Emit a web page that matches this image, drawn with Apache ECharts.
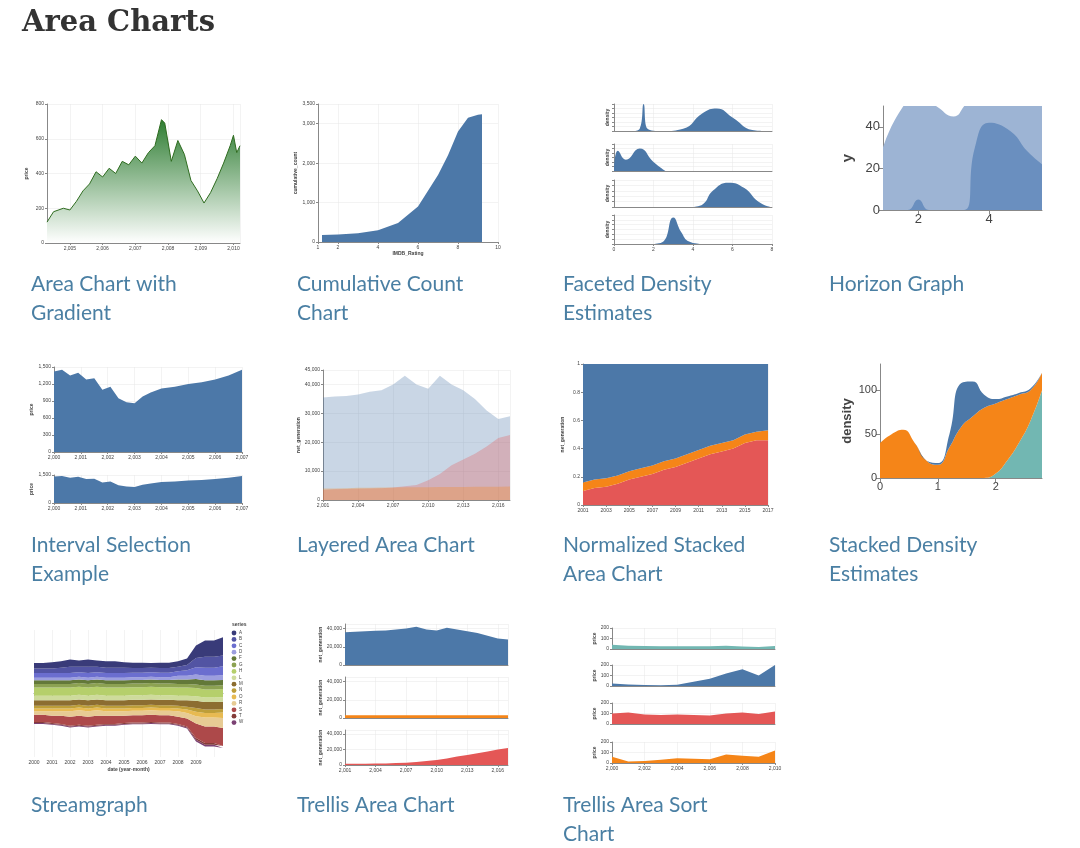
<!DOCTYPE html>
<html style="height: 100%">
<head>
<meta charset="utf-8">
<script src="https://cdn.jsdelivr.net/npm/echarts@6/dist/echarts.min.js"></script>
<script>
// captions
CAPTIONS = [
  ['Area Chart with', 'Gradient'], ['Cumulative Count', 'Chart'], ['Faceted Density', 'Estimates'], ['Horizon Graph'],
  ['Interval Selection', 'Example'], ['Layered Area Chart'], ['Normalized Stacked', 'Area Chart'], ['Stacked Density', 'Estimates'],
  ['Streamgraph'], ['Trellis Area Chart'], ['Trellis Area Sort', 'Chart']
];

// 1 gradient
GRAD = [[2004.3,120],[2004.5,180],[2004.8,200],[2005.0,190],[2005.2,240],[2005.4,300],[2005.6,340],[2005.8,410],[2006.0,380],
  [2006.2,430],[2006.4,400],[2006.6,470],[2006.8,450],[2007.0,500],[2007.2,460],[2007.4,520],[2007.6,560],[2007.8,710],
  [2007.9,690],[2008.1,470],[2008.3,590],[2008.5,510],[2008.7,360],[2008.9,300],[2009.1,230],[2009.3,290],[2009.5,370],
  [2009.7,460],[2009.9,560],[2010.0,620],[2010.1,520],[2010.2,560]];
// 2 cumulative
CUM = [[1.2,180],[2,190],[3,220],[4,300],[5,480],[6,900],[7,1700],[7.5,2200],[8,2800],[8.5,3150],[9,3230],[9.2,3240]];
// 3 faceted density
DEN_PL = [[1,0],[1.3,0.05],[1.5,0.6],[1.7,0.05],[2.5,0],[3.5,0.05],[4.5,0.4],[5.2,0.5],[6,0.3],[7,0.02],[7.5,0]];
DEN_PW = [[0,0],[0.2,0.9],[0.6,0.5],[1.3,1.0],[2,0.4],[2.6,0]];
DEN_SL = [[4,0],[4.5,0.05],[5,0.3],[5.8,0.45],[6.6,0.35],[7.3,0.1],[7.9,0]];
DEN_SW = [[2,0],[2.5,0.1],[3,1.1],[3.4,0.5],[3.8,0.1],[4.4,0]];
// 4 horizon
HOR_A = [[1,30],[1.5,48],[2,55],[2.5,50],[3,45],[3.3,50],[3.6,58],[4.5,60],[5.5,55]];
HOR_B = [[1,0],[1.7,0],[2,5],[2.3,0],[3.3,0],[3.6,30],[4,42],[4.6,38],[5.1,28],[5.5,22]];
// 5 interval
INT_X = [2000,2000.3,2000.6,2000.9,2001.2,2001.5,2001.8,2002.1,2002.4,2002.7,2003.0,2003.3,2003.6,2004,2004.5,2005,2005.5,2006,2006.5,2007];
INT_Y = [1420,1450,1350,1400,1280,1300,1100,1150,950,880,860,980,1050,1120,1150,1200,1230,1280,1350,1450];
// 6 layered
LAY_X = [2001,2002,2003,2004,2005,2006,2007,2008,2009,2010,2011,2012,2013,2014,2015,2016,2017];
LAY_A = [35500,35800,36000,36500,37500,38000,40000,43000,40000,38500,43000,40000,38000,35000,31000,28000,29000];
LAY_B = [3500,3700,3800,3900,4000,4100,4300,4800,5200,6800,9000,12000,14000,16000,18500,21500,22500];
LAY_C = [4000,4000,4100,4200,4200,4300,4300,4400,4400,4400,4500,4500,4500,4600,4600,4600,4700];
// 7 normalized
NOR_R = [0.1,0.12,0.13,0.15,0.18,0.2,0.22,0.25,0.27,0.3,0.33,0.36,0.38,0.4,0.44,0.46,0.46];
NOR_O = [0.06,0.06,0.06,0.06,0.06,0.06,0.06,0.06,0.06,0.06,0.06,0.06,0.06,0.06,0.06,0.06,0.07];
// 8 stacked density
SD_X = [0,0.2,0.4,0.6,0.8,1.0,1.2,1.4,1.6,1.8,2.0,2.2,2.4,2.6,2.8];
SD_O = [40,50,55,40,20,15,35,58,70,80,80,70,55,35,20];
SD_B = [0,0,0,0,0,2,15,50,40,15,5,3,2,2,0];
SD_T = [0,0,0,0,0,0,0,0,0,0,5,20,40,65,100];
// 9 streamgraph
ST_X = ['2000','2000.5','2001','2001.5','2002','2002.5','2003','2003.5','2004','2004.5','2005','2005.5','2006','2006.5','2007','2007.5','2008','2008.5','2009','2009.3','2009.6','2010'];
ST_NAMES = ['A','B','C','D','F','G','H','L','M','N','O','R','S','T','W'];
ST_VALS = [
  [6,6,7,7,8,7,8,7,7,7,6,6,6,5,6,6,6,7,14,18,18,20],
  [5,5,5,6,7,6,7,6,6,6,6,5,5,5,5,5,5,6,10,12,12,12],
  [5,5,5,5,5,5,5,5,5,5,5,5,5,5,5,5,5,6,8,9,9,10],
  [3,3,3,3,3,3,3,3,3,3,3,3,3,3,3,3,4,4,5,5,5,5],
  [4,4,4,4,4,4,4,4,4,4,4,4,4,4,4,4,5,5,6,6,6,6],
  [4,4,4,4,4,4,4,4,4,4,4,4,4,4,4,4,4,4,4,4,4,4],
  [9,9,9,9,9,9,9,9,9,9,9,9,9,9,9,9,9,9,9,9,9,9],
  [5,5,5,5,5,5,5,5,5,5,5,5,5,5,5,5,5,5,5,5,5,5],
  [6,6,6,6,6,6,6,6,6,6,6,6,6,6,6,6,6,7,8,8,8,8],
  [3,3,3,3,3,3,3,3,3,3,3,3,3,3,3,3,3,3,4,4,4,4],
  [3,3,3,3,3,3,3,3,3,3,3,3,3,3,3,3,3,4,5,5,5,6],
  [4,4,5,5,6,6,6,6,5,5,5,5,5,5,5,5,6,6,8,10,10,11],
  [8,8,8,9,10,10,10,10,9,9,8,8,8,8,8,8,8,9,16,18,18,20],
  [1,1,1,1,1,1,1,1,1,1,1,1,1,1,1,1,1,1,2,2,2,2],
  [1,1,1,1,1,1,1,1,1,1,1,1,1,1,1,1,1,1,2,2,2,2]
];
ST_COLORS = ['#393b79','#5254a3','#6b6ecf','#9c9ede','#637939','#8ca252','#b5cf6b','#cedb9c','#8c6d31','#bd9e39','#e7ba52','#e7cb94','#ad494a','#843c39','#7b4173'];
// 10 trellis
TR_X = [2001,2002,2003,2004,2005,2006,2007,2008,2009,2010,2011,2012,2013,2014,2015,2016,2017];
TR_FOSSIL = [36000,36500,37000,37500,38000,39000,40000,42000,39000,38000,41000,39000,37000,35000,32000,29000,28000];
TR_NUC = [3000,3000,3000,3100,3000,3100,3100,3000,3100,3000,3100,3000,3100,3000,3100,3000,3000];
TR_REN = [1500,1500,1700,1800,2000,2500,3000,4000,5000,6500,8500,11000,13000,15000,17500,20000,22000];
// 11 trellis sort
TS_X = [2000,2001,2002,2003,2004,2005,2006,2007,2008,2009,2010];
TS_MSFT = [40,30,28,26,26,26,27,30,25,20,28];
TS_AAPL = [25,15,10,8,12,40,70,120,160,100,200];
TS_IBM = [100,110,90,85,90,85,80,100,110,95,120];
TS_AMZN = [60,15,20,30,45,40,35,80,70,60,120];
</script>
</head>
<body style="height: 100%; margin: 0; background: #fff">
<div id="container" style="width: 1080px; height: 848px"></div>
<script>
var grids = [], xAxes = [], yAxes = [], series = [], graphics = [];
var GC = '#e6e6e6', LC = '#444';

function addGrid(rect, xmin, xmax, ymin, ymax, yname, showX, cats) {
    var i = grids.length;
    grids.push({left: rect[0], top: rect[1], width: rect[2], height: rect[3]});
    var xa = {type: 'value', gridIndex: i, min: xmin, max: xmax,
        axisLine: {lineStyle: {color: '#888'}}, axisTick: {show: showX !== false, length: 2},
        axisLabel: {show: showX !== false, fontSize: 5, color: LC, margin: 3, showMinLabel: true},
        splitLine: {show: true, lineStyle: {color: GC, width: 0.5}}};
    if (cats) { xa.type = 'category'; xa.data = cats; xa.boundaryGap = false; delete xa.min; delete xa.max; }
    xAxes.push(xa);
    yAxes.push({type: 'value', gridIndex: i, min: ymin, max: ymax, name: yname, nameLocation: 'middle', nameGap: 18,
        nameTextStyle: {fontSize: 5, fontWeight: 'bold', color: LC},
        axisLine: {show: true, lineStyle: {color: '#888'}}, axisTick: {show: true, length: 2},
        axisLabel: {fontSize: 5, color: LC, margin: 3},
        splitLine: {lineStyle: {color: GC, width: 0.5}}});
    return i;
}
function area(gi, data, color, opts) {
    var s = {type: 'line', xAxisIndex: gi, yAxisIndex: gi, data: data, symbol: 'none', silent: true,
        lineStyle: {width: 0}, areaStyle: {color: color, opacity: 1}};
    for (var k in opts) s[k] = opts[k];
    series.push(s);
}
function zip(x, y) { return x.map(function (v, i) { return [v, y[i]]; }); }
var BLUE = '#4c78a8', ORANGE = '#f58518', RED = '#e45756', TEAL = '#72b7b2';

// 1
var g = addGrid([47, 104, 193, 139], 2004.3, 2010.2, 0, 800, 'price');
xAxes[g].axisLabel.showMinLabel = false;
area(g, GRAD, new echarts.graphic.LinearGradient(0, 0, 0, 1, [{offset: 0, color: '#2e7d32'}, {offset: 1, color: '#ffffff'}]),
    {lineStyle: {width: 1, color: '#2e6b1f'}});
// 2
g = addGrid([318, 104, 180, 138], 1, 10, 0, 3500, 'cumulative_count');
xAxes[g].name = 'IMDB_Rating'; xAxes[g].nameLocation = 'middle'; xAxes[g].nameGap = 9;
xAxes[g].nameTextStyle = {fontSize: 5, fontWeight: 'bold', color: LC};
area(g, CUM, BLUE);
// 3
var facets = [[DEN_PL, 104, 'petalLength', 0.6], [DEN_PW, 144, 'petalWidth', 1.2], [DEN_SL, 180, 'sepalLength', 0.5], [DEN_SW, 215, 'sepalWidth', 1.2]];
facets.forEach(function (f, k) {
    g = addGrid([614, f[1], 158, k === 3 ? 29 : 27], 0, 8, 0, f[3], 'density', k === 3);
    yAxes[g].axisLabel.show = false; yAxes[g].nameGap = 4;
    area(g, f[0], BLUE, {smooth: true});
});
// 4
g = addGrid([883, 106, 159, 104], 1, 5.5, 0, 50, 'y');
xAxes[g].axisLabel.fontSize = 13; xAxes[g].axisLabel.customValues = [2, 4]; xAxes[g].axisTick.customValues = [2, 4];
xAxes[g].axisTick.length = 4;
xAxes[g].splitLine.show = false; yAxes[g].splitLine.show = false;
yAxes[g].axisLabel.fontSize = 13; yAxes[g].nameTextStyle.fontSize = 15; yAxes[g].nameGap = 28;
yAxes[g].axisLabel.customValues = [0, 20, 40]; yAxes[g].axisTick.customValues = [0, 20, 40]; yAxes[g].axisTick.length = 4;
area(g, HOR_A, '#9db4d4', {smooth: true});
area(g, HOR_B, '#6a8fbf', {smooth: true});
// 5
g = addGrid([54, 367, 188, 85], 2000, 2007, 0, 1500, 'price');
area(g, zip(INT_X, INT_Y), BLUE);
g = addGrid([54, 475, 188, 28], 2000, 2007, 0, 1500, 'price');
yAxes[g].interval = 1500;
area(g, zip(INT_X, INT_Y), BLUE);
// 6
g = addGrid([323, 370, 187, 130], 2001, 2017, 0, 45000, 'net_generation');
area(g, zip(LAY_X, LAY_A), 'rgba(76,120,168,0.3)');
area(g, zip(LAY_X, LAY_B), 'rgba(228,87,86,0.3)');
area(g, zip(LAY_X, LAY_C), 'rgba(245,133,24,0.3)');
// 7
g = addGrid([583, 364, 185, 141], 0, 0, 0, 1, 'net_generation', true, LAY_X);
xAxes[g].axisLabel.interval = 1;
area(g, NOR_R, RED, {stack: 'n'});
area(g, NOR_O, ORANGE, {stack: 'n'});
area(g, NOR_R.map(function (v, i) { return 1 - v - NOR_O[i]; }), BLUE, {stack: 'n'});
// 8
g = addGrid([880, 364, 162, 114], 0, 0, 0, 130, 'density', true, SD_X);
xAxes[g].axisLabel.fontSize = 11; xAxes[g].splitLine.show = false;
xAxes[g].axisLabel.interval = function (i) { return i % 5 === 0 && i < 14; };
xAxes[g].axisTick.interval = xAxes[g].axisLabel.interval; xAxes[g].axisTick.length = 4;
yAxes[g].interval = 50; yAxes[g].axisLabel.fontSize = 11; yAxes[g].nameTextStyle.fontSize = 13; yAxes[g].nameGap = 26;
yAxes[g].axisLabel.showMaxLabel = false; yAxes[g].axisTick.length = 4;
yAxes[g].splitLine.show = false;
area(g, SD_T, TEAL, {stack: 'sd', smooth: true});
area(g, SD_O, ORANGE, {stack: 'sd', smooth: true});
area(g, SD_B, BLUE, {stack: 'sd', smooth: true});
// 9 streamgraph
g = addGrid([34, 630, 189, 127], 0, 0, -70, 70, null, true, ST_X);
yAxes[g].axisLine.show = false; yAxes[g].axisTick.show = false; yAxes[g].axisLabel.show = false; yAxes[g].splitLine.show = false;
xAxes[g].name = 'date (year-month)'; xAxes[g].nameLocation = 'middle'; xAxes[g].nameGap = 10;
xAxes[g].nameTextStyle = {fontSize: 5, fontWeight: 'bold', color: LC};
xAxes[g].axisLabel.interval = 1; xAxes[g].axisLabel.formatter = function (v) { return v.length === 4 ? v : ''; };
var base = ST_X.map(function (x, i) {
    var s = 0; ST_VALS.forEach(function (v) { s += v[i]; }); return -s / 2;
});
area(g, base, 'rgba(0,0,0,0)', {stack: 'st', stackStrategy: 'all', areaStyle: {opacity: 0}});
ST_VALS.slice().reverse().forEach(function (v, k) {
    area(g, v, ST_COLORS[ST_VALS.length - 1 - k], {stack: 'st', stackStrategy: 'all', name: ST_NAMES[ST_VALS.length - 1 - k]});
});
graphics.push({type: 'text', left: 232, top: 622, style: {text: 'series', fontSize: 5, fontWeight: 'bold', fill: LC}});
ST_NAMES.forEach(function (n, k) {
    graphics.push({type: 'circle', shape: {cx: 234, cy: 633 + k * 6.4, r: 2.4}, style: {fill: ST_COLORS[k]}});
    graphics.push({type: 'text', left: 239, top: 630 + k * 6.4, style: {text: n, fontSize: 4.5, fill: LC}});
});
// 10
var trl = [[TR_FOSSIL, 624, BLUE], [TR_NUC, 677, ORANGE], [TR_REN, 730, RED]];
trl.forEach(function (t, k) {
    g = addGrid([345, t[1], 163, k === 2 ? 35 : 41], 2001, 2017, 0, 45000, 'net_generation', k === 2);
    yAxes[g].interval = 20000; yAxes[g].min = 0;
    area(g, zip(TR_X, t[0]), t[2]);
});
// 11
var tsl = [[TS_MSFT, 628, TEAL], [TS_AAPL, 665, BLUE], [TS_IBM, 703, RED], [TS_AMZN, 742, ORANGE]];
tsl.forEach(function (t, k) {
    g = addGrid([612, t[1], 163, 21], 2000, 2010, 0, 200, 'price', k === 3);
    yAxes[g].interval = 100; yAxes[g].nameGap = 12;
    area(g, zip(TS_X, t[0]), t[2]);
});

// title and captions
graphics.push({type: 'text', left: 22, top: 9, style: {text: 'Area Charts', font: 'bold 29px "DejaVu Serif"', fill: '#333'}});
var colX = [31, 297, 563, 829], rowY = [270, 531, 791];
CAPTIONS.forEach(function (c, k) {
    graphics.push({type: 'text', left: colX[k % 4], top: rowY[Math.floor(k / 4)],
        style: {text: c.join('\n'), font: '21px Lato', lineHeight: 29, fill: '#4a7fa3'}});
});

var myChart = echarts.init(document.getElementById('container'));
myChart.setOption({animation: false, grid: grids, xAxis: xAxes, yAxis: yAxes, series: series, graphic: graphics});
</script>
</body>
</html>
